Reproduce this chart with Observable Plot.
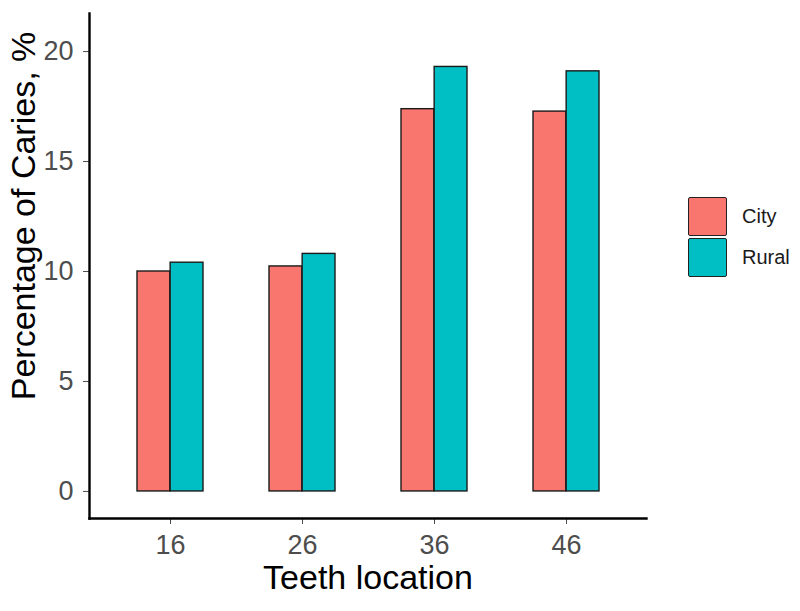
<!DOCTYPE html>
<html>
<head>
<meta charset="utf-8">
<script src="https://cdn.jsdelivr.net/npm/d3@7"></script>
<script src="https://cdn.jsdelivr.net/npm/@observablehq/plot@0.6"></script>
<style>
  html, body { margin: 0; padding: 0; background: #fff; }
  #wrap { position: relative; width: 800px; height: 611px; font-family: "Liberation Sans", Arial, sans-serif; }
  #legend { position: absolute; left: 688px; top: 196px; }
  .item { display: flex; align-items: center; height: 41px; }
  .sw { width: 39px; height: 39px; border: 1.4px solid #222; border-radius: 2px; box-sizing: border-box; margin-right: 15px; }
  .lab { font-size: 20px; color: #1a1a1a; }
</style>
</head>
<body>
<div id="wrap"></div>
<script>
const teeth = ["16", "26", "36", "46"];
const groups = ["City", "Rural"];
const cityValues = [10.0, 10.23, 17.38, 17.27];
const ruralValues = [10.4, 10.8, 19.3, 19.1];
const groupColors = ["#F8766D", "#00BFC4"];
const yTicks = [0, 5, 10, 15, 20];
const yDomain = [-1.23, 21.73];

const data = teeth.flatMap((t, i) => [
  {teeth: t, group: groups[0], value: cityValues[i]},
  {teeth: t, group: groups[1], value: ruralValues[i]}
]);

const W = 800, H = 611;
const mL = 89, mR = 154, mT = 13, mB = 93;
const padIn = 0.5, padOut = 0.35;
const step = (W - mL - mR) / (teeth.length - padIn + 2 * padOut);
const half = step * (1 - padIn) / 2;

const barStyle = {x: "teeth", y: "value", fill: "group", stroke: "#1a1a1a", strokeWidth: 1.4};

const chart = Plot.plot({
  width: W, height: H,
  marginLeft: mL, marginRight: mR, marginTop: mT, marginBottom: mB,
  style: {fontFamily: "Liberation Sans, Arial, sans-serif", background: "white"},
  x: {domain: teeth, paddingInner: padIn, paddingOuter: padOut, label: null},
  y: {domain: yDomain, label: null},
  color: {domain: groups, range: groupColors},
  marks: [
    Plot.barY(data.filter(d => d.group === "City"), {...barStyle, insetRight: half}),
    Plot.barY(data.filter(d => d.group === "Rural"), {...barStyle, insetLeft: half}),
    Plot.axisY({ticks: yTicks, tickSize: 6, tickPadding: 10, fontSize: 27, color: "#4d4d4d", stroke: "#4d4d4d", label: null}),
    Plot.axisX({tickSize: 6, tickPadding: 10, fontSize: 27, color: "#4d4d4d", stroke: "#4d4d4d", label: null}),
    Plot.frame({anchor: "left", stroke: "black", strokeWidth: 2.4}),
    Plot.frame({anchor: "bottom", stroke: "black", strokeWidth: 2.4}),
    Plot.text(["Percentage of Caries, %"], {frameAnchor: "left", textAnchor: "middle", rotate: -90, dx: -65, dy: -50, fontSize: 34, fill: "black"}),
    Plot.text(["Teeth location"], {frameAnchor: "bottom", textAnchor: "middle", dy: 70, fontSize: 34, fill: "black"})
  ]
});

const wrap = document.getElementById("wrap");
wrap.appendChild(chart);
const legend = document.createElement("div");
legend.id = "legend";
groups.forEach((g, i) => {
  const it = document.createElement("div");
  it.className = "item";
  it.innerHTML = `<div class="sw" style="background:${groupColors[i]}"></div><span class="lab">${g}</span>`;
  legend.appendChild(it);
});
wrap.appendChild(legend);
</script>
</body>
</html>
